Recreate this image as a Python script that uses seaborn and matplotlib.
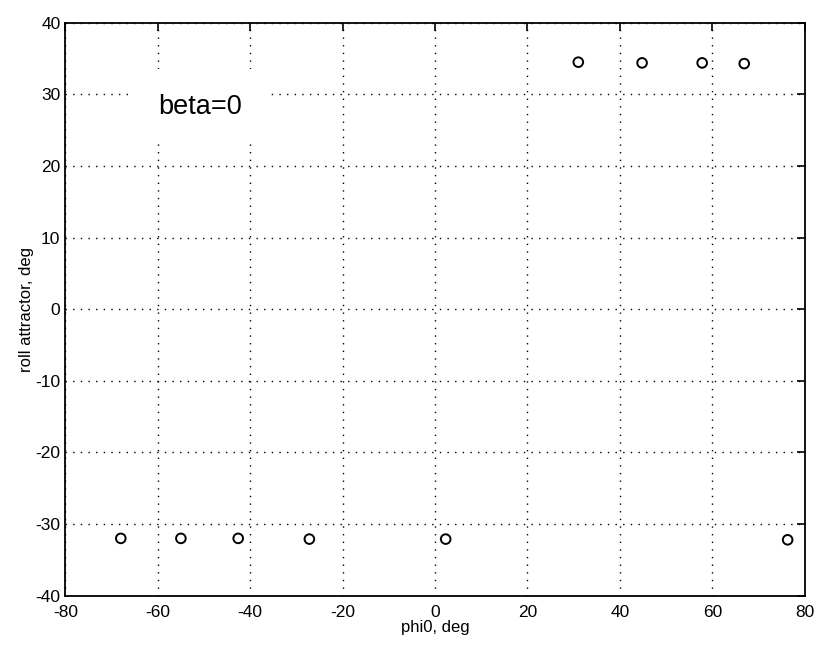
import matplotlib
matplotlib.use('Agg')
import matplotlib.pyplot as plt
import seaborn as sns
import pandas as pd

# roll attractor vs initial roll angle, beta=0
phi0 = [-68, -55, -42.6, -27.2, 2.3, 31, 44.8, 57.8, 66.9, 76.3]
roll = [-32.0, -32.0, -32.0, -32.1, -32.1, 34.5, 34.4, 34.4, 34.3, -32.2]
xticks = [-80, -60, -40, -20, 0, 20, 40, 60, 80]
yticks = [-40, -30, -20, -10, 0, 10, 20, 30, 40]

df = pd.DataFrame({'phi0': phi0, 'roll': roll})

sns.set_style('white')
plt.rcParams['font.family'] = ['Liberation Sans', 'DejaVu Sans']
plt.rcParams['axes.unicode_minus'] = False
plt.rcParams['text.color'] = 'black'
plt.rcParams['axes.labelcolor'] = 'black'

fig = plt.figure(figsize=(8.17, 6.51), dpi=100)
ax = fig.add_axes([0.08, 0.085, 0.905, 0.88])

sns.scatterplot(data=df, x='phi0', y='roll', marker='o', s=48,
                facecolors='none', edgecolor='black', linewidth=1.4,
                ax=ax, zorder=3)

ax.set_xlim(-80, 80)
ax.set_ylim(-40, 40)
ax.set_xticks(xticks)
ax.set_yticks(yticks)
ax.grid(True, color='black', linestyle=(0, (1, 4.5)), linewidth=1.0)
ax.tick_params(direction='in', length=6, width=1.2, top=True, right=True,
               labelsize=12.5, colors='black')
ax.tick_params(axis='x', pad=7)
for sp in ax.spines.values():
    sp.set_color('black')
    sp.set_linewidth(1.3)

ax.set_xlabel('phi0, deg', fontsize=12, labelpad=0)
ax.set_ylabel('roll attractor, deg', fontsize=12, labelpad=1)

ax.text(-60, 27.3, 'beta=0', fontsize=19.5, color='black', ha='left', va='baseline',
        zorder=4, bbox=dict(boxstyle='square,pad=0.9', fc='white', ec='none'))

fig.savefig('out.png', dpi=100)
